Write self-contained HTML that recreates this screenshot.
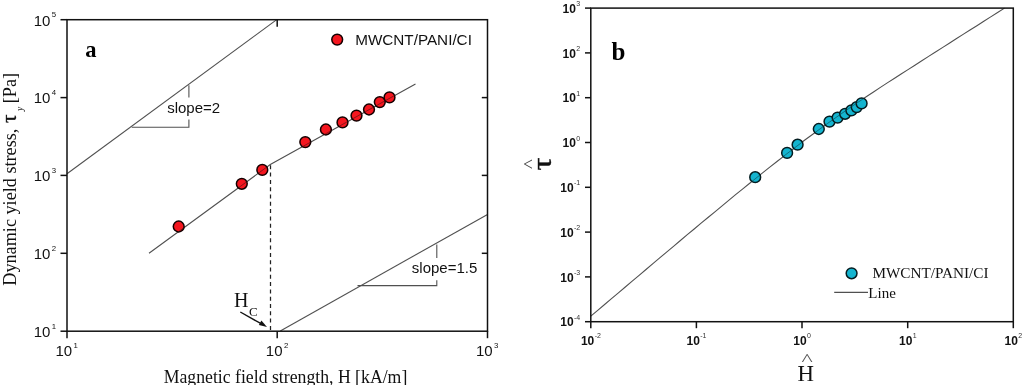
<!DOCTYPE html>
<html lang="en"><head><meta charset="utf-8"><title>Figure</title>
<style>html,body{margin:0;padding:0;background:#fff}body{width:1024px;height:385px;overflow:hidden}svg{display:block}.sa{font-family:"Liberation Sans", sans-serif}.se{font-family:"Liberation Serif", serif}</style></head><body>
<svg width="1024" height="385" viewBox="0 0 1024 385">
<rect width="1024" height="385" fill="#fff"/>
<g id="panel-a">
<g stroke="#505050" stroke-width="1.1" fill="none">
<line x1="67.0" y1="173.7" x2="276.4" y2="19.9"/>
<polyline points="131.7,127.2 188.9,127.2 188.9,119.4"/><line x1="188.9" y1="97.6" x2="188.9" y2="85.3"/>
<line x1="280.3" y1="331.0" x2="487.5" y2="214.4"/>
<polyline points="357.5,285.6 436.8,285.6 436.8,280.2"/><line x1="436.8" y1="258" x2="436.8" y2="244.6"/>
<polyline points="149,253.3 270.3,164.5 415.5,83.9"/>
</g>
<line x1="270.5" y1="165.3" x2="270.5" y2="331.2" stroke="#222" stroke-width="1.25" stroke-dasharray="4 3.3"/>
<text class="sa" x="167.2" y="112.6" font-size="15" fill="#111" textLength="53" lengthAdjust="spacingAndGlyphs">slope=2</text>
<text class="sa" x="411.8" y="272.6" font-size="15" fill="#111" textLength="65.5" lengthAdjust="spacingAndGlyphs">slope=1.5</text>
<g fill="#f4161f" stroke="#140000" stroke-width="1.5">
<circle cx="178.7" cy="226.5" r="5.4"/>
<circle cx="241.8" cy="183.8" r="5.4"/>
<circle cx="262.3" cy="169.9" r="5.4"/>
<circle cx="305.3" cy="142.1" r="5.4"/>
<circle cx="325.9" cy="129.5" r="5.4"/>
<circle cx="342.5" cy="122.4" r="5.4"/>
<circle cx="356.5" cy="115.6" r="5.4"/>
<circle cx="369" cy="109.5" r="5.4"/>
<circle cx="379.8" cy="102.1" r="5.4"/>
<circle cx="389.5" cy="97.4" r="5.4"/>
<circle cx="337.2" cy="39.6" r="5.4"/>
</g>
<clipPath id="ca"><circle cx="178.7" cy="226.5" r="5.4"/><circle cx="241.8" cy="183.8" r="5.4"/><circle cx="262.3" cy="169.9" r="5.4"/><circle cx="305.3" cy="142.1" r="5.4"/><circle cx="325.9" cy="129.5" r="5.4"/><circle cx="342.5" cy="122.4" r="5.4"/><circle cx="356.5" cy="115.6" r="5.4"/><circle cx="369" cy="109.5" r="5.4"/><circle cx="379.8" cy="102.1" r="5.4"/><circle cx="389.5" cy="97.4" r="5.4"/></clipPath>
<polyline clip-path="url(#ca)" points="149,253.3 270.3,164.5 415.5,83.9" stroke="#4a1515" stroke-width="0.9" fill="none" opacity="0.7"/>
<rect x="67.0" y="19.7" width="420.5" height="311.5" fill="none" stroke="#111" stroke-width="1.5"/>
<g stroke="#111" stroke-width="1.5">
<line x1="60.5" y1="19.7" x2="67.0" y2="19.7"/>
<line x1="60.5" y1="97.6" x2="67.0" y2="97.6"/>
<line x1="60.5" y1="175.4" x2="67.0" y2="175.4"/>
<line x1="60.5" y1="253.3" x2="67.0" y2="253.3"/>
<line x1="60.5" y1="331.2" x2="67.0" y2="331.2"/>
<line x1="481.8" y1="97.6" x2="487.5" y2="97.6"/>
<line x1="481.8" y1="175.4" x2="487.5" y2="175.4"/>
<line x1="481.8" y1="253.3" x2="487.5" y2="253.3"/>
<line x1="67.0" y1="331.2" x2="67.0" y2="338.2"/>
<line x1="277.2" y1="331.2" x2="277.2" y2="338.2"/>
<line x1="487.5" y1="331.2" x2="487.5" y2="338.2"/>
<line x1="277.2" y1="19.7" x2="277.2" y2="26.7"/>
</g>
<g class="sa" font-size="15" fill="#111">
<text x="33.7" y="25.5">10<tspan font-size="7.8" dx="1.3" dy="-8.4">5</tspan></text>
<text x="33.7" y="103.4">10<tspan font-size="7.8" dx="1.3" dy="-8.4">4</tspan></text>
<text x="33.7" y="181.2">10<tspan font-size="7.8" dx="1.3" dy="-8.4">3</tspan></text>
<text x="33.7" y="259.1">10<tspan font-size="7.8" dx="1.3" dy="-8.4">2</tspan></text>
<text x="33.7" y="337.0">10<tspan font-size="7.8" dx="1.3" dy="-8.4">1</tspan></text>
<text x="55.5" y="356.3">10<tspan font-size="7.8" dx="1.4" dy="-8.4">1</tspan></text>
<text x="265.8" y="356.3">10<tspan font-size="7.8" dx="1.4" dy="-8.4">2</tspan></text>
<text x="476.0" y="356.3">10<tspan font-size="7.8" dx="1.4" dy="-8.4">3</tspan></text>
</g>
<text class="sa" x="355.2" y="45" font-size="15" fill="#111" textLength="116.7" lengthAdjust="spacingAndGlyphs">MWCNT/PANI/CI</text>
<text class="se" x="85.2" y="57.4" font-size="22.5" font-weight="bold" fill="#000">a</text>
<text class="se" x="234" y="306.6" font-size="20" fill="#111">H<tspan font-size="13" dy="9.4" dx="0.6">C</tspan></text>
<line x1="240.3" y1="312" x2="262" y2="324.2" stroke="#111" stroke-width="1.4"/>
<polygon points="267,327 258.9,325 261.4,320.6" fill="#111"/>
<text class="se" x="163.7" y="382.8" font-size="18.3" fill="#111" textLength="243.6" lengthAdjust="spacingAndGlyphs">Magnetic field strength, H [kA/m]</text>
<g class="se" fill="#111">
<text transform="translate(15.8 285.7) rotate(-90)" font-size="18.2">Dynamic yield stress,</text>
<text transform="translate(15.7 122.9) rotate(-90)" font-size="21" stroke="#111" stroke-width="0.35">τ</text>
<text transform="translate(23 111) rotate(-90)" font-size="9.5" font-style="italic">y</text>
<text transform="translate(15.8 103.2) rotate(-90)" font-size="18.2">[Pa]</text>
</g>
</g>
<g id="panel-b">
<polyline points="590.8,316.2 597.7,310.3 604.6,304.5 611.5,298.7 618.4,292.8 625.3,287.0 632.2,281.2 639.1,275.3 646.0,269.5 652.9,263.7 659.7,257.9 666.6,252.1 673.5,246.3 680.4,240.5 687.3,234.7 694.2,229.0 701.1,223.2 708.0,217.5 714.9,211.8 721.8,206.1 728.7,200.4 735.6,194.7 742.5,189.1 749.4,183.5 756.3,177.9 763.2,172.4 770.1,166.9 777.0,161.5 783.9,156.1 790.8,150.8 797.6,145.5 804.5,140.3 811.4,135.2 818.3,130.1 825.2,125.1 832.1,120.2 839.0,115.3 845.9,110.5 852.8,105.8 859.7,101.1 866.6,96.5 873.5,92.0 880.4,87.4 887.3,82.9 894.2,78.5 901.1,74.0 908.0,69.6 914.9,65.2 921.8,60.8 928.6,56.4 935.5,52.0 942.4,47.6 949.3,43.2 956.2,38.8 963.1,34.4 970.0,30.0 976.9,25.7 983.8,21.3 990.7,16.9 997.6,12.5 1004.5,8.1" stroke="#505050" stroke-width="1.1" fill="none"/>
<g fill="#14b4cf" stroke="#041c20" stroke-width="1.5">
<circle cx="755.2" cy="177.2" r="5.4"/>
<circle cx="787.1" cy="152.9" r="5.4"/>
<circle cx="797.6" cy="144.7" r="5.4"/>
<circle cx="818.8" cy="129" r="5.4"/>
<circle cx="829.5" cy="121.6" r="5.4"/>
<circle cx="837.6" cy="117.6" r="5.4"/>
<circle cx="845.1" cy="113.8" r="5.4"/>
<circle cx="851.4" cy="110.4" r="5.4"/>
<circle cx="856.7" cy="107.1" r="5.4"/>
<circle cx="861.6" cy="103.4" r="5.4"/>
<circle cx="851.6" cy="273.3" r="5.4"/>
</g>
<clipPath id="cb"><circle cx="755.2" cy="177.2" r="5.4"/><circle cx="787.1" cy="152.9" r="5.4"/><circle cx="797.6" cy="144.7" r="5.4"/><circle cx="818.8" cy="129" r="5.4"/><circle cx="829.5" cy="121.6" r="5.4"/><circle cx="837.6" cy="117.6" r="5.4"/><circle cx="845.1" cy="113.8" r="5.4"/><circle cx="851.4" cy="110.4" r="5.4"/><circle cx="856.7" cy="107.1" r="5.4"/><circle cx="861.6" cy="103.4" r="5.4"/></clipPath>
<polyline clip-path="url(#cb)" points="744.0,187.9 748.4,184.3 752.8,180.8 757.2,177.2 761.6,173.7 766.0,170.2 770.4,166.7 774.8,163.2 779.2,159.8 783.6,156.3 788.0,152.9 792.4,149.6 796.8,146.2 801.2,142.9 805.6,139.6 810.0,136.3 814.4,133.0 818.8,129.8 823.2,126.6 827.6,123.4 832.0,120.3 836.4,117.2 840.8,114.1 845.2,111.0 849.6,108.0 854.0,105.0 858.4,102.0 862.8,99.1 867.2,96.1 871.6,93.2 876.0,90.3" stroke="#0d4650" stroke-width="0.9" opacity="0.7" fill="none"/>
<rect x="590.8" y="8.1" width="422.5" height="313.59999999999997" fill="none" stroke="#111" stroke-width="1.5"/>
<g stroke="#111" stroke-width="1.5">
<line x1="585.0" y1="8.1" x2="590.8" y2="8.1"/>
<line x1="585.0" y1="52.9" x2="590.8" y2="52.9"/>
<line x1="585.0" y1="97.7" x2="590.8" y2="97.7"/>
<line x1="585.0" y1="142.5" x2="590.8" y2="142.5"/>
<line x1="585.0" y1="187.3" x2="590.8" y2="187.3"/>
<line x1="585.0" y1="232.1" x2="590.8" y2="232.1"/>
<line x1="585.0" y1="276.9" x2="590.8" y2="276.9"/>
<line x1="585.0" y1="321.7" x2="590.8" y2="321.7"/>
<line x1="590.8" y1="321.7" x2="590.8" y2="328.2"/>
<line x1="696.4" y1="321.7" x2="696.4" y2="328.2"/>
<line x1="802.0" y1="321.7" x2="802.0" y2="328.2"/>
<line x1="907.7" y1="321.7" x2="907.7" y2="328.2"/>
<line x1="1013.3" y1="321.7" x2="1013.3" y2="328.2"/>
</g>
<g class="sa" font-size="12" fill="#111" font-weight="bold">
<text x="580.2" y="12.8" text-anchor="end">10<tspan font-size="7" dx="0.4" dy="-6.6" font-weight="normal" fill="#333">3</tspan></text>
<text x="580.2" y="57.6" text-anchor="end">10<tspan font-size="7" dx="0.4" dy="-6.6" font-weight="normal" fill="#333">2</tspan></text>
<text x="580.2" y="102.4" text-anchor="end">10<tspan font-size="7" dx="0.4" dy="-6.6" font-weight="normal" fill="#333">1</tspan></text>
<text x="580.2" y="147.2" text-anchor="end">10<tspan font-size="7" dx="0.4" dy="-6.6" font-weight="normal" fill="#333">0</tspan></text>
<text x="580.2" y="192.0" text-anchor="end">10<tspan font-size="7" dx="0.4" dy="-6.6" font-weight="normal" fill="#333">-1</tspan></text>
<text x="580.2" y="236.8" text-anchor="end">10<tspan font-size="7" dx="0.4" dy="-6.6" font-weight="normal" fill="#333">-2</tspan></text>
<text x="580.2" y="281.6" text-anchor="end">10<tspan font-size="7" dx="0.4" dy="-6.6" font-weight="normal" fill="#333">-3</tspan></text>
<text x="580.2" y="326.4" text-anchor="end">10<tspan font-size="7" dx="0.4" dy="-6.6" font-weight="normal" fill="#333">-4</tspan></text>
<text x="590.9" y="344.5" text-anchor="middle">10<tspan font-size="7" dx="0.4" dy="-6.6" font-weight="normal" fill="#333">-2</tspan></text>
<text x="696.5" y="344.5" text-anchor="middle">10<tspan font-size="7" dx="0.4" dy="-6.6" font-weight="normal" fill="#333">-1</tspan></text>
<text x="802.1" y="344.5" text-anchor="middle">10<tspan font-size="7" dx="0.4" dy="-6.6" font-weight="normal" fill="#333">0</tspan></text>
<text x="907.8" y="344.5" text-anchor="middle">10<tspan font-size="7" dx="0.4" dy="-6.6" font-weight="normal" fill="#333">1</tspan></text>
<text x="1013.4" y="344.5" text-anchor="middle">10<tspan font-size="7" dx="0.4" dy="-6.6" font-weight="normal" fill="#333">2</tspan></text>
</g>
<text class="se" x="611.4" y="60.1" font-size="25" font-weight="bold" fill="#000">b</text>
<text class="se" x="872.4" y="278.2" font-size="15" fill="#111" textLength="116.2" lengthAdjust="spacingAndGlyphs">MWCNT/PANI/CI</text>
<line x1="834.2" y1="292.4" x2="868" y2="292.4" stroke="#505050" stroke-width="1.1"/>
<text class="se" x="868.3" y="297.9" font-size="15" fill="#111">Line</text>
<text class="se" x="797.5" y="381.4" font-size="22.8" fill="#111">H</text>
<text class="se" transform="translate(801.5 365.2) scale(1.38 1)" font-size="17.3" fill="#555">^</text>
<text class="se" transform="translate(551 170.6) rotate(-90) scale(1.16 1)" font-size="28" fill="#111" stroke="#111" stroke-width="0.4">τ</text>
<text class="se" transform="translate(534.8 169) rotate(-90) scale(1.21 1)" font-size="17.3" fill="#444">^</text>
</g>
</svg></body></html>
